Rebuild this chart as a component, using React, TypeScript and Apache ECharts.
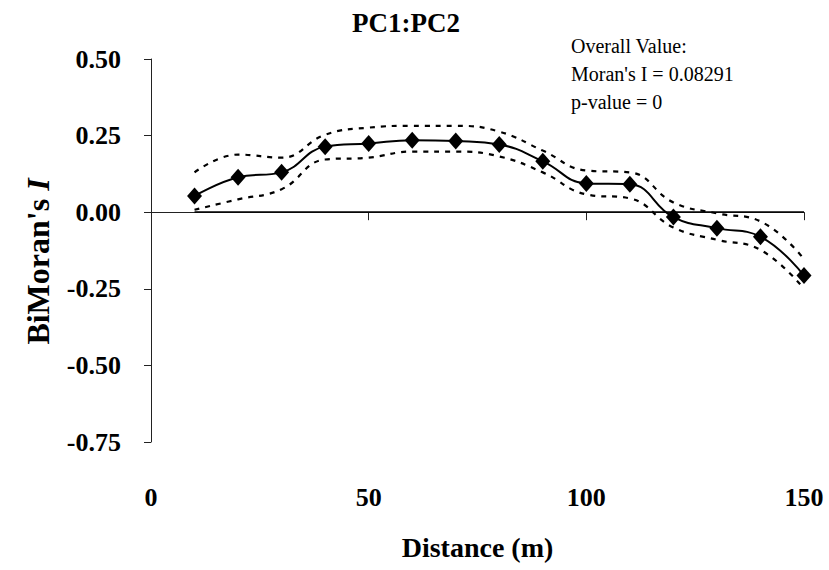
import React, { useEffect, useRef } from "react";
import * as echarts from "echarts";

const titleText = "PC1:PC2";
const distances = [10, 20, 30, 40, 50, 60, 70, 80, 90, 100, 110, 120, 130, 140, 150];
const moranI = [0.053, 0.114, 0.13, 0.214, 0.224, 0.235, 0.232, 0.221, 0.166, 0.094, 0.091, -0.016, -0.052, -0.08, -0.207];
const upperBound = [0.13, 0.188, 0.178, 0.253, 0.276, 0.282, 0.282, 0.263, 0.201, 0.136, 0.13, 0.032, -0.004, -0.03, -0.153];
const lowerBound = [0.008, 0.042, 0.075, 0.172, 0.178, 0.198, 0.198, 0.182, 0.13, 0.058, 0.045, -0.05, -0.09, -0.123, -0.25];
const annotationLines = ["Overall Value:", "Moran's I = 0.08291", "p-value = 0"];
const yTicks = { min: -0.75, max: 0.5, interval: 0.25 };
const xTicks = { min: 0, max: 150, interval: 50 };

const FONT = "'Liberation Serif', 'Times New Roman', serif";

export default function App() {
  const ref = useRef<HTMLDivElement>(null);
  useEffect(() => {
    document.body.style.margin = "0";
    if (!ref.current) return;
    const chart = echarts.init(ref.current, undefined, { renderer: "svg" });
    const pairs = (ys: number[]) => distances.map((d, i) => [d, ys[i]]);
    const axisLine = { show: true, lineStyle: { color: "#222", width: 1 } };
    chart.setOption({
      animation: false,
      backgroundColor: "#fff",
      title: {
        text: titleText,
        left: 401,
        top: 4,
        textAlign: "center",
        textStyle: { fontFamily: FONT, fontWeight: "bold", fontSize: 27, color: "#000" },
      },
      grid: { left: 151, right: 25, top: 59, bottom: 128 },
      xAxis: {
        type: "value",
        min: xTicks.min,
        max: xTicks.max,
        interval: xTicks.interval,
        name: "Distance (m)",
        nameLocation: "middle",
        nameGap: 91,
        nameTextStyle: { fontFamily: FONT, fontWeight: "bold", fontSize: 28, color: "#000" },
        axisLine,
        axisTick: { show: true, length: 8, lineStyle: { color: "#222" } },
        splitLine: { show: false },
        axisLabel: { margin: 42, fontFamily: FONT, fontWeight: "bold", fontSize: 26, color: "#000" },
      },
      yAxis: {
        type: "value",
        min: yTicks.min,
        max: yTicks.max,
        interval: yTicks.interval,
        name: "{a|BiMoran's }{b|I}",
        nameLocation: "middle",
        nameGap: 97,
        nameTextStyle: {
          padding: [0, 22, 0, 0],
          rich: {
            a: { fontFamily: FONT, fontWeight: "bold", fontSize: 32, color: "#000" },
            b: { fontFamily: FONT, fontWeight: "bold", fontStyle: "italic", fontSize: 32, color: "#000" },
          },
        },
        axisLine,
        axisTick: { show: true, length: 7, lineStyle: { color: "#222" } },
        splitLine: { show: false },
        axisLabel: {
          margin: 30,
          fontFamily: FONT,
          fontWeight: "bold",
          fontSize: 26,
          color: "#000",
          formatter: (v: number) => v.toFixed(2),
        },
      },
      graphic: [
        {
          type: "text",
          left: 571,
          top: 32,
          style: {
            text: annotationLines.join("\n"),
            fontFamily: FONT,
            fontSize: 20,
            lineHeight: 28,
            fill: "#000",
          },
        },
      ],
      series: [
        {
          type: "line",
          name: "upper",
          data: pairs(upperBound),
          smooth: 0.45,
          showSymbol: false,
          lineStyle: { color: "#000", width: 2.2, type: [5, 6] },
          z: 2,
        },
        {
          type: "line",
          name: "lower",
          data: pairs(lowerBound),
          smooth: 0.45,
          showSymbol: false,
          lineStyle: { color: "#000", width: 2.2, type: [5, 6] },
          z: 2,
        },
        {
          type: "line",
          name: "BiMoran's I",
          data: pairs(moranI),
          smooth: 0.45,
          symbol: "diamond",
          symbolSize: [15, 17],
          itemStyle: { color: "#000" },
          lineStyle: { color: "#000", width: 2 },
          z: 3,
          markLine: {
            silent: true,
            symbol: "none",
            label: { show: false },
            lineStyle: { color: "#000", width: 1.5, type: "solid" },
            data: [[{ coord: [distances[0], 0] }, { coord: [distances[distances.length - 1], 0] }]],
          },
        },
      ],
    });
    return () => chart.dispose();
  }, []);
  return (
    <div
      ref={ref}
      style={{ position: "absolute", left: 0, top: 0, width: 829, height: 570, background: "#fff" }}
    />
  );
}
